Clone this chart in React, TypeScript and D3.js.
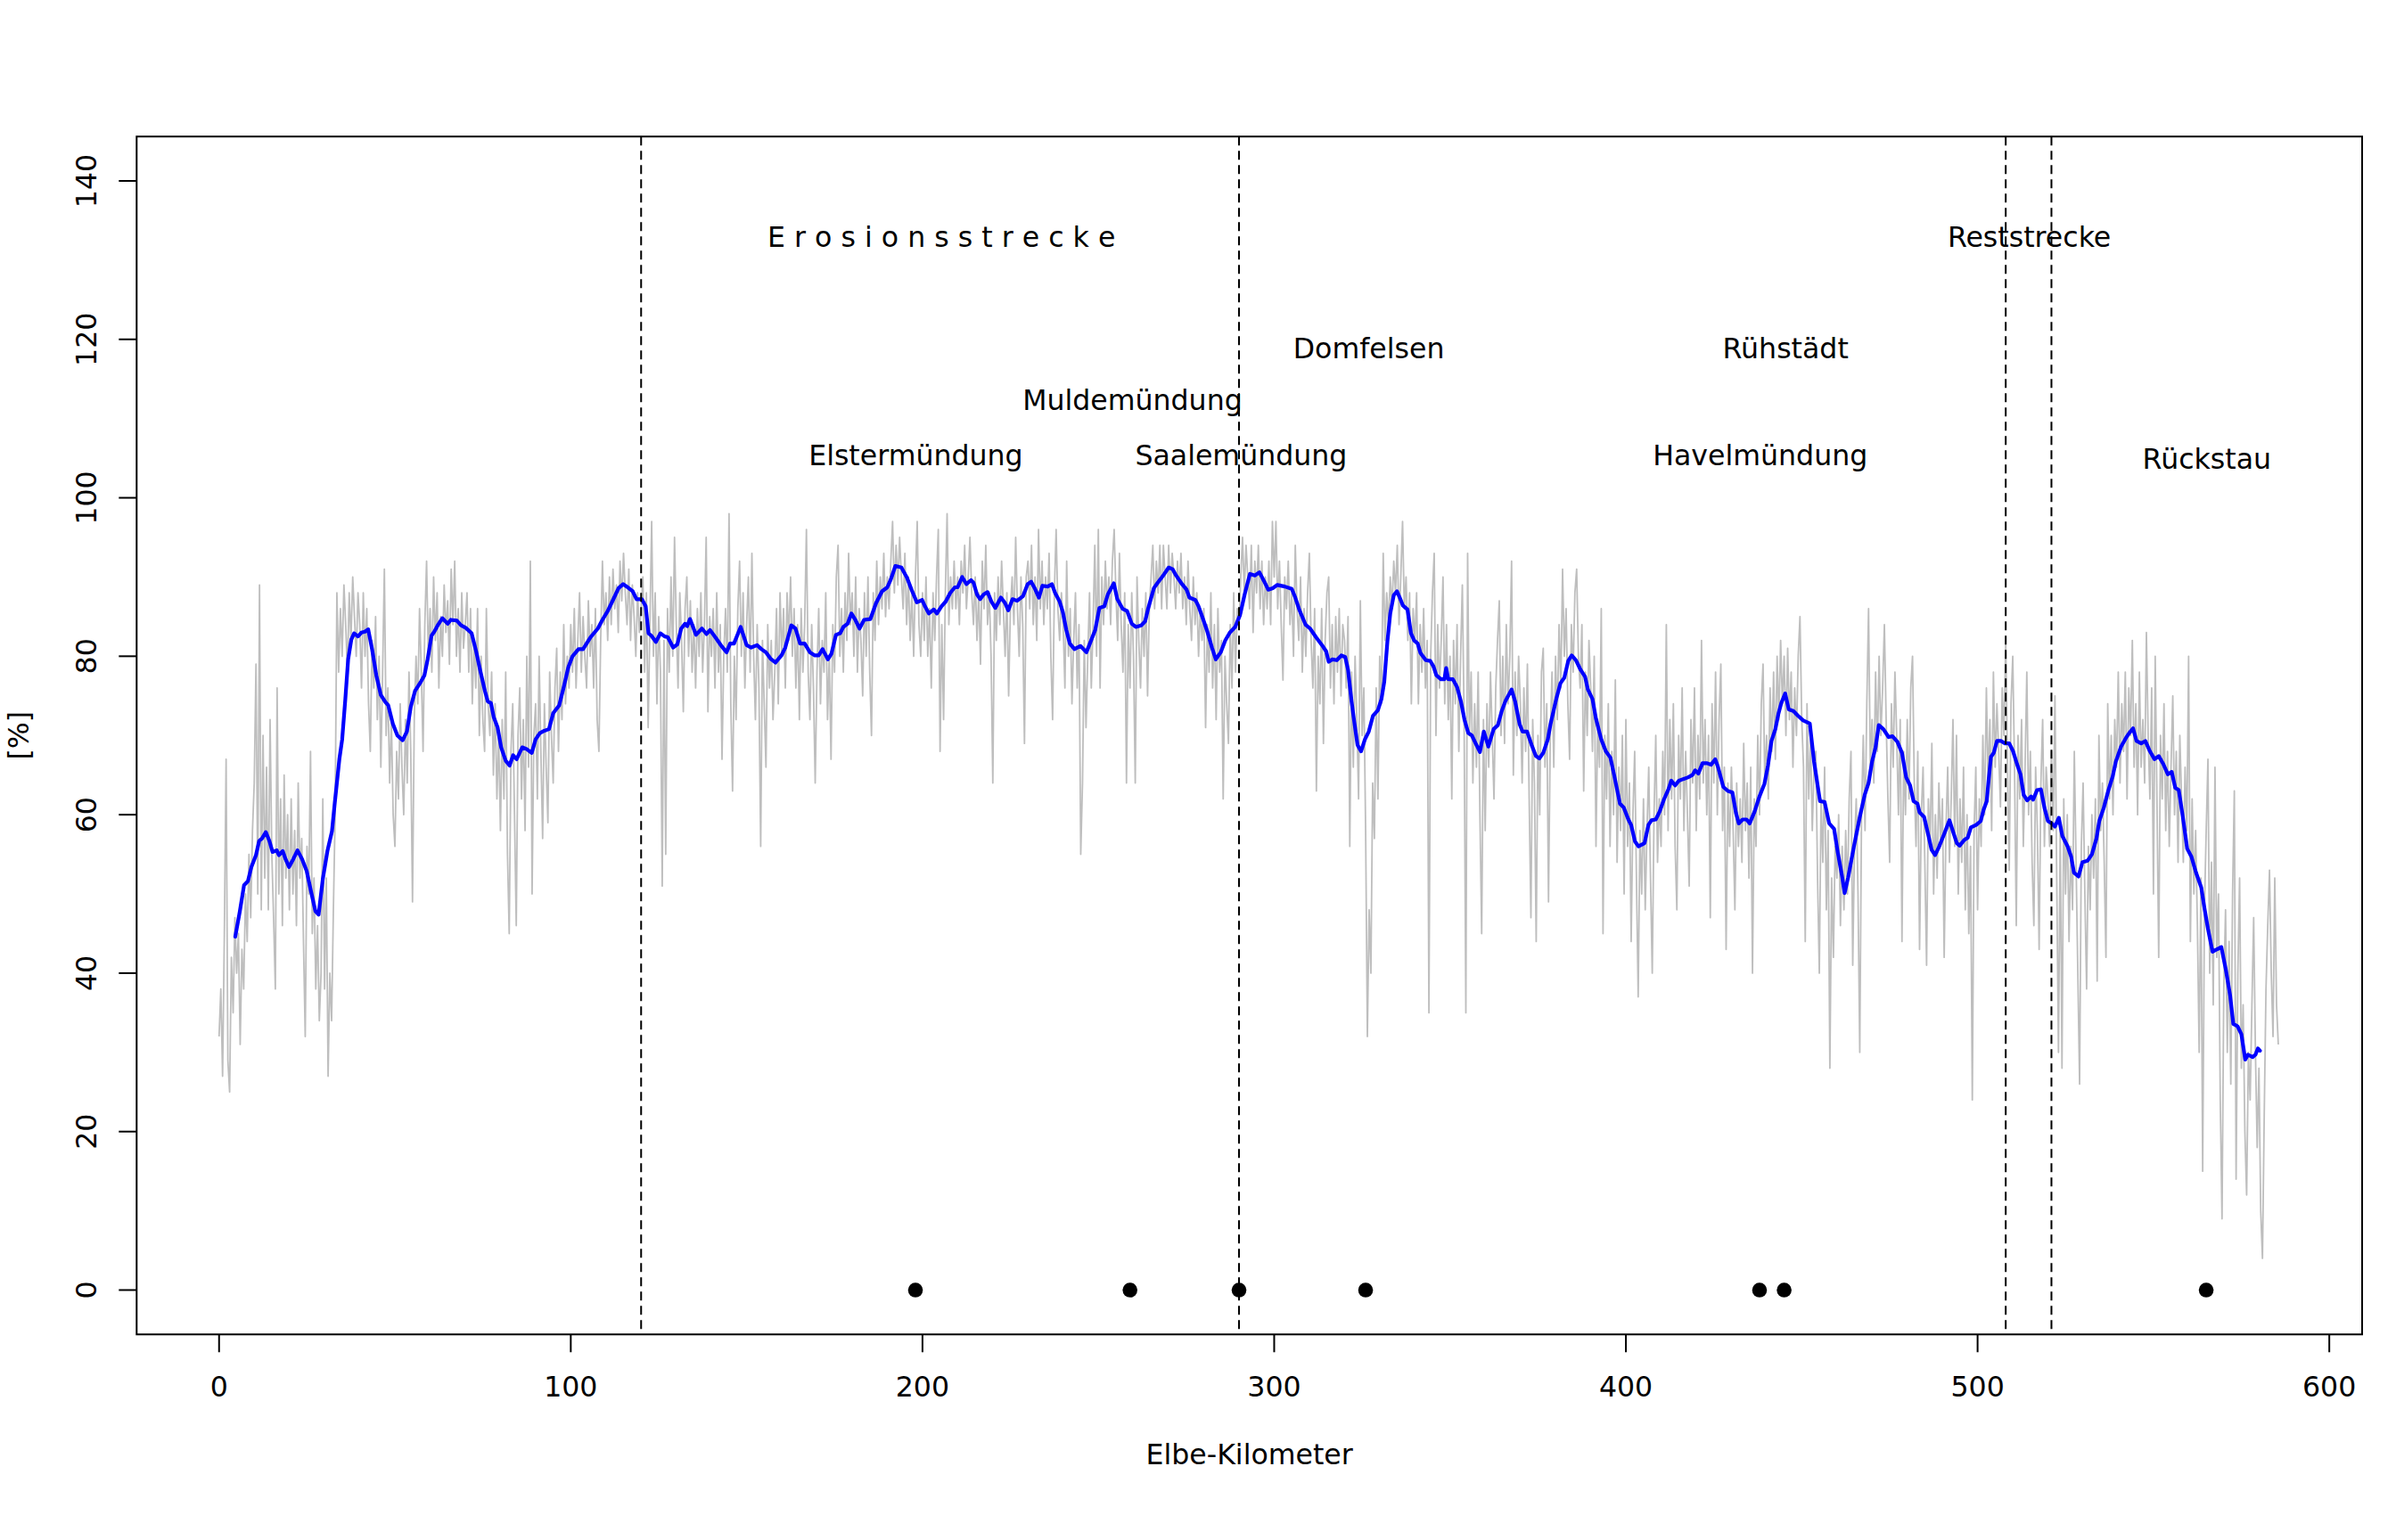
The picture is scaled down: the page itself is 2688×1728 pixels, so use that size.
import React from "react";
import * as d3 from "d3";

// ---------- data ----------
// raw series (grey), one value every 0.5 Elbe-km starting at km 0
const GRAY_STEP_KM = 0.5;
const gray000 = [32,38,27,45,67,29,25,42,35,47,40,45,31,43,38,50,44,55,47,58];
const gray010 = [64,79,50,89,48,70,52,66,48,72,55,47,38,76,50,62,46,65,52,60];
const gray020 = [48,62,50,58,46,64,52,57,44,32,56,50,68,45,52,38,46,34,40,62];
const gray030 = [38,52,27,40,34,48,60,88,78,86,80,89,84,78,88,82,90,85,80,88];
const gray040 = [84,76,88,80,86,74,68,82,76,85,72,80,66,78,91,70,76,64,72,60];
const gray050 = [56,68,62,74,66,60,72,64,78,68,49,72,80,74,86,78,68,84,92,80];
const gray060 = [86,78,90,82,88,76,85,80,89,83,87,79,91,84,92,80,86,78,88,81];
const gray070 = [84,88,78,86,74,82,76,86,70,80,72,68,86,74,70,78,65,74,62,70];
const gray080 = [58,72,62,78,55,45,68,74,60,46,70,76,62,72,58,80,66,92,50,70];
const gray090 = [74,62,80,68,57,74,66,59,78,70,64,76,81,68,78,72,84,74,80,76];
const gray100 = [84,78,86,76,82,88,78,85,80,76,87,80,84,76,86,72,68,82,92,84];
const gray110 = [88,82,90,84,91,86,89,83,92,87,93,88,84,91,82,89,85,80,88,83];
const gray120 = [86,90,78,88,71,84,97,80,88,74,85,78,51,82,55,86,78,90,80,95];
const gray130 = [84,76,88,82,73,86,90,80,87,78,84,76,86,80,88,78,84,95,73,85];
const gray140 = [80,86,76,88,78,84,67,80,86,78,98,74,63,80,72,86,92,80,88,76];
const gray150 = [84,90,78,93,80,72,84,76,56,82,74,66,84,76,82,72,78,86,74,88];
const gray160 = [80,86,76,88,82,90,80,86,76,84,72,86,78,84,96,78,72,84,76,64];
const gray170 = [78,86,74,82,78,88,72,80,67,84,78,90,94,80,86,78,88,82,93,84];
const gray180 = [88,80,90,78,86,82,75,88,80,90,78,70,88,82,92,84,90,86,93,85];
const gray190 = [90,86,92,97,88,94,89,95,90,86,93,84,90,82,88,80,90,97,84,80];
const gray200 = [88,82,90,80,86,76,88,82,90,96,68,84,72,88,98,84,90,86,92,86];
const gray210 = [90,84,92,88,94,86,90,95,88,84,90,82,88,79,92,86,94,84,88,80];
const gray220 = [64,88,82,90,84,92,86,80,88,75,86,90,84,95,86,80,90,84,69,90];
const gray230 = [92,86,94,84,90,82,96,86,92,84,90,86,93,80,72,88,96,86,82,88];
const gray240 = [84,76,92,80,86,74,82,88,76,84,55,64,82,71,80,88,76,84,94,80];
const gray250 = [96,76,90,84,92,86,90,84,92,96,88,82,93,84,78,88,64,84,76,88];
const gray260 = [80,64,90,82,76,86,80,88,75,86,90,94,86,92,88,94,86,94,90,86];
const gray270 = [94,88,93,90,86,92,88,93,86,90,84,92,86,82,90,84,88,80,86,82];
const gray280 = [86,71,84,78,88,76,84,72,86,78,82,62,80,74,69,84,76,88,78,86];
const gray290 = [84,90,95,88,94,90,86,94,83,92,88,94,86,92,84,90,86,92,84,97];
const gray300 = [90,97,86,92,84,77,90,86,92,84,88,80,94,86,82,90,78,86,80,88];
const gray310 = [93,82,76,86,63,80,74,86,69,82,88,90,76,84,74,85,78,86,75,84];
const gray320 = [82,76,85,56,78,66,80,72,62,87,70,76,58,32,48,40,64,57,76,62];
const gray330 = [80,74,93,82,88,84,90,86,92,88,94,84,90,97,86,90,82,88,74,86];
const gray340 = [82,88,74,84,78,86,76,82,35,80,88,93,70,84,76,82,90,74,84,72];
const gray350 = [80,62,82,74,84,68,80,89,72,35,93,70,78,64,74,66,78,60,45,72];
const gray360 = [58,74,66,78,70,62,76,82,87,70,80,69,84,74,80,92,65,78,70,80];
const gray370 = [74,64,76,68,79,62,47,72,64,44,70,60,78,81,66,74,49,70,78,66];
const gray380 = [80,72,84,76,91,80,86,74,67,84,78,88,91,80,76,84,63,78,70,82];
const gray390 = [76,68,80,56,72,66,86,45,70,62,74,56,68,60,77,54,66,58,70,50];
const gray400 = [72,56,64,44,60,68,52,37,58,50,62,48,58,66,52,40,60,70,54,62];
const gray410 = [56,68,60,84,58,72,62,74,56,48,70,62,76,58,68,60,51,72,64,76];
const gray420 = [58,70,62,82,64,72,60,70,47,74,64,78,60,72,79,58,66,43,64,56];
const gray430 = [66,58,48,64,56,62,54,69,58,64,52,66,40,62,56,70,60,74,79,64];
const gray440 = [70,62,76,68,78,67,80,72,82,74,80,70,81,72,78,66,76,70,80,85];
const gray450 = [72,66,44,74,62,70,58,66,68,52,40,62,54,66,48,58,28,52,42,56];
const gray460 = [52,60,46,56,48,58,50,62,68,41,56,62,50,30,60,70,58,74,86,66];
const gray470 = [72,64,78,68,80,70,76,84,72,62,54,74,66,78,70,60,72,44,68,60];
const gray480 = [72,62,76,80,64,56,68,43,60,66,54,41,62,56,69,50,60,52,64,56];
const gray490 = [62,42,58,66,54,62,72,56,70,50,62,54,66,48,60,45,56,24,58,66];
const gray500 = [48,62,56,70,60,76,64,72,58,78,66,74,68,61,76,70,82,66,53,74];
const gray510 = [80,66,46,70,62,72,56,66,78,60,68,54,46,66,58,43,64,72,56,66];
const gray520 = [62,56,68,58,75,52,30,58,28,62,50,60,44,56,48,68,54,40,26,56];
const gray530 = [64,50,38,56,48,60,52,62,39,70,58,64,54,42,74,62,70,60,72,66];
const gray540 = [78,64,74,68,78,62,76,70,82,66,74,60,78,66,72,64,83,70,62,76];
const gray550 = [50,80,62,42,70,62,74,58,68,56,66,75,60,68,54,70,62,54,66,58];
const gray560 = [80,44,62,50,58,46,30,52,15,48,58,67,40,54,36,66,42,50,24,9];
const gray570 = [38,48,30,44,26,50,63,14,40,52,28,36,20,12,30,24,36,47,30,18];
const gray580 = [28,10,4,22,38,46,53,40,32,52,36,31];

// smoothed series (blue)
const blueKm = [
  4.6,5.9,7.1,8.2,9.2,10.5,11.4,12.2,13.3,14.3,15.2,16.4,17.0,18.1,18.9,19.9,21.1,22.3,23.6,24.9,
  26.1,27.4,28.3,29.5,30.8,32.1,32.9,34.2,35.0,35.9,36.7,37.6,38.4,39.5,40.5,41.5,42.4,43.5,44.7,46.0,
  47.3,48.1,49.4,50.7,52.2,53.4,54.5,55.7,57.4,58.4,59.3,60.4,61.2,62.3,63.5,65.0,65.9,67.6,68.8,70.1,
  71.8,73.1,74.3,75.6,76.4,77.3,78.1,79.2,80.2,81.5,82.6,83.6,84.6,86.2,87.4,88.9,90.0,91.2,92.5,93.8,
  95.0,96.7,98.0,99.3,100.5,102.2,103.5,105.6,107.7,109.0,110.5,112.0,113.6,114.9,116.2,117.6,118.7,120.2,121.3,122.1,
  122.9,124.2,125.5,126.7,127.6,129.1,130.3,131.4,132.5,133.1,133.9,135.6,137.3,138.6,139.6,141.1,143.0,144.3,145.3,146.4,
  148.3,150.0,151.3,153.0,154.2,155.5,156.8,158.2,159.9,161.0,162.7,163.9,165.2,166.5,168.0,169.4,170.5,171.6,173.1,174.1,
  175.4,176.6,177.5,178.7,179.8,180.9,182.1,183.4,185.2,186.8,188.5,190.0,191.0,192.3,194.0,195.6,196.9,198.4,199.9,200.7,
  201.8,203.2,204.1,205.4,206.6,207.9,209.2,210.0,211.3,212.5,213.8,214.5,215.5,216.4,217.4,218.5,219.6,220.7,222.3,223.5,
  224.4,225.6,226.9,228.6,229.9,230.9,232.0,233.1,234.1,235.6,236.8,237.7,239.0,239.9,240.9,241.9,243.2,244.9,246.6,247.6,
  249.1,250.3,251.7,252.7,254.4,255.4,256.9,258.2,259.5,260.7,262.2,263.3,264.1,265.8,266.9,268.3,270.0,271.1,272.1,273.8,
  275.1,275.9,277.6,278.5,279.7,281.0,282.3,283.4,284.8,286.1,287.4,288.9,290.3,291.6,293.1,294.5,295.8,297.1,298.3,299.6,
  300.9,303.0,305.0,306.0,307.2,308.9,310.2,311.9,313.6,314.8,315.5,316.5,317.8,319.1,320.2,321.0,322.0,322.9,323.7,324.7,
  325.8,326.9,328.1,329.5,330.5,331.3,332.2,333.0,334.0,334.9,335.7,336.6,337.9,338.9,339.8,340.8,341.6,343.1,344.4,345.3,
  346.1,347.4,348.4,348.9,349.5,350.8,352.0,353.1,354.1,355.2,356.2,357.5,358.5,359.6,360.9,362.4,363.6,364.7,365.8,367.5,
  368.5,369.8,370.6,371.9,373.2,374.4,375.4,376.5,377.8,378.6,380.2,381.4,382.5,383.6,384.6,385.8,387.1,388.4,389.2,390.5,
  391.5,393.0,394.3,395.6,396.8,398.3,399.4,400.7,401.5,402.6,403.6,405.3,406.4,407.3,408.5,409.6,410.8,412.1,412.9,414.0,
  415.1,416.3,417.6,418.9,419.7,420.6,421.8,423.1,424.2,425.4,426.2,427.7,429.0,430.3,431.3,432.1,433.2,434.3,435.2,436.6,
  437.9,439.4,440.4,441.4,442.5,443.4,444.2,445.3,446.3,447.6,448.9,450.4,452.3,453.5,455.2,456.5,457.8,459.2,460.3,461.4,
  462.2,463.2,464.8,466.6,467.9,469.0,470.0,471.0,471.9,473.2,474.7,475.8,477.2,478.5,479.7,480.8,481.8,482.9,483.5,484.8,
  486.1,486.9,487.9,489.0,489.9,490.7,492.0,493.0,494.1,494.9,496.2,497.2,498.1,499.6,500.9,501.7,502.6,503.1,503.8,504.6,
  505.5,506.7,507.8,509.0,510.1,511.2,512.2,513.1,514.1,515.2,515.8,516.9,518.0,519.0,520.0,521.1,522.0,523.1,524.1,525.6,
  526.6,527.4,528.7,529.8,531.3,532.5,533.8,534.6,535.9,537.2,538.4,539.3,540.8,542.2,543.1,544.2,545.2,546.5,547.7,549.0,
  550.3,551.5,552.8,554.1,555.2,556.2,557.2,558.3,559.6,560.8,562.1,563.6,564.5,565.5,566.8,568.0,569.3,570.6,571.8,572.7,
  573.9,575.0,576.1,576.9,578.2,579.0,579.7,580.3
];
const bluePct = [
  44.6,47.8,51.1,51.6,53.4,54.9,56.7,57.0,57.8,56.7,55.3,55.5,54.9,55.4,54.4,53.4,54.4,55.5,54.4,52.9,
  50.4,47.8,47.4,51.9,55.4,57.9,61.5,67.0,69.5,74.6,79.6,82.1,82.9,82.5,83.0,83.1,83.4,80.9,77.6,75.1,
  74.2,73.8,71.5,70.0,69.4,70.5,73.6,75.6,76.8,77.6,79.6,82.6,83.1,84.0,84.8,84.1,84.6,84.5,83.9,83.6,
  82.9,80.6,78.1,75.6,74.3,74.1,72.3,71.0,68.5,66.8,66.2,67.5,67.0,68.5,68.3,67.8,69.5,70.3,70.6,70.8,
  72.8,73.8,76.1,78.6,80.0,80.9,80.9,82.4,83.5,84.6,85.7,87.1,88.6,89.1,88.7,88.2,87.2,87.2,86.3,82.9,
  82.6,81.8,82.9,82.5,82.4,81.1,81.5,83.5,84.1,83.8,84.7,82.7,83.5,82.8,83.3,82.4,81.2,80.5,81.6,81.6,
  83.7,81.4,81.1,81.4,80.9,80.5,79.7,79.2,80.1,81.1,83.9,83.5,81.6,81.6,80.5,80.1,80.1,80.9,79.6,80.3,
  82.7,82.9,83.7,84.1,85.4,84.6,83.5,84.6,84.7,86.7,88.2,88.7,89.7,91.4,91.2,89.9,88.4,86.8,87.1,86.3,
  85.4,85.9,85.4,86.3,86.9,88.0,88.7,88.7,90.0,89.1,89.6,89.3,87.8,87.2,87.8,88.1,86.9,86.1,87.4,86.7,
  85.8,87.2,87.0,87.6,89.1,89.4,88.5,87.4,88.9,88.8,89.1,88.0,86.9,85.6,83.3,81.6,80.9,81.3,80.5,81.6,
  83.3,86.1,86.3,87.8,89.2,87.2,86.0,85.7,84.1,83.7,83.9,84.4,85.9,88.6,89.3,90.1,91.2,91.0,90.2,89.1,
  88.4,87.4,87.1,86.3,84.8,83.1,81.1,79.6,80.5,82.0,83.0,83.7,85.2,87.8,90.4,90.2,90.6,89.5,88.4,88.6,
  89.0,88.8,88.5,87.4,85.8,84.0,83.5,82.4,81.4,80.6,79.3,79.6,79.5,80.1,79.9,78.3,74.3,71.3,68.8,68.0,
  69.5,70.5,72.5,73.2,74.6,76.8,81.9,85.4,87.7,88.2,87.4,86.4,85.9,82.9,82.0,81.6,80.4,79.5,79.4,78.7,
  77.6,77.1,77.1,78.5,77.1,77.1,76.1,74.3,72.0,70.3,70.0,68.8,67.9,70.5,68.6,70.8,71.3,73.1,74.4,75.8,
  74.3,71.4,70.5,70.5,68.8,67.4,67.1,67.8,69.5,71.5,74.6,76.6,77.3,79.4,80.1,79.5,78.3,77.4,75.8,74.6,
  72.1,69.5,68.0,67.2,64.7,61.4,60.9,59.4,58.7,56.6,56.0,56.4,58.7,59.3,59.4,60.4,61.9,63.2,64.3,63.7,
  64.3,64.5,64.7,65.0,65.6,65.2,66.5,66.5,66.3,67.0,66.0,63.5,63.0,62.8,60.2,58.9,59.4,59.4,58.9,60.4,
  62.2,63.9,66.2,69.3,70.8,72.8,74.1,75.3,73.3,73.1,72.5,71.9,71.5,66.7,61.7,61.6,58.9,58.2,55.1,52.4,
  50.1,52.1,55.9,59.9,62.5,64.0,66.7,68.5,71.3,70.8,69.8,69.9,69.2,67.8,64.7,63.7,61.7,61.4,60.3,59.7,
  57.2,55.6,54.9,55.9,56.9,57.8,59.3,57.9,56.4,56.1,56.8,57.1,58.4,58.7,59.2,60.6,61.7,64.2,67.3,67.8,
  69.3,69.3,69.0,69.0,68.0,66.4,65.1,62.5,61.8,62.3,61.9,63.1,63.2,60.9,59.2,58.9,58.5,59.6,57.3,56.0,
  54.7,52.7,52.2,54.0,54.2,55.0,57.0,59.2,60.9,63.1,64.8,66.7,68.6,69.7,70.3,70.9,69.3,69.0,69.3,68.0,
  67.0,67.4,66.4,65.1,65.4,63.4,63.1,59.9,55.7,54.7,52.7,50.8,48.2,45.6,42.7,43.0,43.3,40.4,37.2,33.6,
  33.3,32.3,29.1,29.7,29.4,29.7,30.5,30.2
];

// section boundaries (dashed) and marked places
const boundaryKm = [120, 290, 508, 521];
const placeKm = [198, 259, 290, 326, 438, 445, 565];
const placeLabels = [
  { text: "Elstermündung", km: 198.1, pct: 105.3 },
  { text: "Muldemündung", km: 259.7, pct: 112.3 },
  { text: "Saalemündung", km: 290.6, pct: 105.3 },
  { text: "Domfelsen", km: 326.9, pct: 118.9 },
  { text: "Havelmündung", km: 438.2, pct: 105.3 },
  { text: "Rühstädt", km: 445.4, pct: 118.9 },
  { text: "Rückstau", km: 565.2, pct: 104.9 },
];
const sectionLabels = [
  { text: "E r o s i o n s s t r e c k e", km: 205.4, pct: 132.9 },
  { text: "Reststrecke", km: 514.7, pct: 132.9 },
];
const xTicks = [0, 100, 200, 300, 400, 500, 600];
const yTicks = [0, 20, 40, 60, 80, 100, 120, 140];
const xDataRange = [0, 585.9];
const yLimits = [0, 140];
const xTitle = "Elbe-Kilometer";
const yTitle = "[%]";

// ---------- layout ----------
const W = 2688;
const H = 1728;
const box = { left: 153.3, right: 2650, top: 153.2, bottom: 1497.3 };
const FONT = "DejaVu Sans";
const FS = 31.6;

export default function App() {
  const grayPct = [
    ...gray000, ...gray010, ...gray020, ...gray030, ...gray040, ...gray050, ...gray060, ...gray070,
    ...gray080, ...gray090, ...gray100, ...gray110, ...gray120, ...gray130, ...gray140, ...gray150,
    ...gray160, ...gray170, ...gray180, ...gray190, ...gray200, ...gray210, ...gray220, ...gray230,
    ...gray240, ...gray250, ...gray260, ...gray270, ...gray280, ...gray290, ...gray300, ...gray310,
    ...gray320, ...gray330, ...gray340, ...gray350, ...gray360, ...gray370, ...gray380, ...gray390,
    ...gray400, ...gray410, ...gray420, ...gray430, ...gray440, ...gray450, ...gray460, ...gray470,
    ...gray480, ...gray490, ...gray500, ...gray510, ...gray520, ...gray530, ...gray540, ...gray550,
    ...gray560, ...gray570, ...gray580,
  ];
  const grayPts: [number, number][] = grayPct.map((v, i) => [i * GRAY_STEP_KM, v]);
  const bluePts: [number, number][] = blueKm.map((k, i) => [k, bluePct[i]]);

  const xr = xDataRange[1] - xDataRange[0];
  const yr = yLimits[1] - yLimits[0];
  const x = d3
    .scaleLinear()
    .domain([xDataRange[0] - 0.04 * xr, xDataRange[1] + 0.04 * xr])
    .range([box.left, box.right]);
  const y = d3
    .scaleLinear()
    .domain([yLimits[0] - 0.04 * yr, yLimits[1] + 0.04 * yr])
    .range([box.bottom, box.top]);

  const line = d3
    .line<[number, number]>()
    .x((d) => x(d[0]))
    .y((d) => y(d[1]));

  const textStyle = { fontFamily: FONT, fontSize: FS, fill: "#000" } as const;

  return (
    <svg
      width={W}
      height={H}
      viewBox={`0 0 ${W} ${H}`}
      style={{ position: "absolute", left: 0, top: 0, background: "#fff" }}
    >
      <rect x={0} y={0} width={W} height={H} fill="#fff" />
      {/* grey raw series */}
      <path d={line(grayPts) || ""} fill="none" stroke="#BEBEBE" strokeWidth={1.8} strokeLinejoin="round" />
      {/* blue smoothed series */}
      <path d={line(bluePts) || ""} fill="none" stroke="#0000FF" strokeWidth={4.2} strokeLinejoin="round" strokeLinecap="round" />
      {/* dashed section boundaries */}
      {boundaryKm.map((k) => (
        <line
          key={`b${k}`}
          x1={x(k)}
          x2={x(k)}
          y1={box.top}
          y2={box.bottom}
          stroke="#000"
          strokeWidth={2}
          strokeDasharray="10 6"
        />
      ))}
      {/* places */}
      {placeKm.map((k) => (
        <circle key={`p${k}`} cx={x(k)} cy={y(0)} r={8.3} fill="#000" />
      ))}
      {placeLabels.map((l) => (
        <text key={l.text} x={x(l.km)} y={y(l.pct)} textAnchor="middle" dominantBaseline="central" style={textStyle}>
          {l.text}
        </text>
      ))}
      {sectionLabels.map((l) => (
        <text key={l.text} x={x(l.km)} y={y(l.pct)} textAnchor="middle" dominantBaseline="central" style={textStyle}>
          {l.text}
        </text>
      ))}
      {/* box */}
      <rect
        x={box.left}
        y={box.top}
        width={box.right - box.left}
        height={box.bottom - box.top}
        fill="none"
        stroke="#000"
        strokeWidth={2}
      />
      {/* x axis */}
      {xTicks.map((t) => (
        <g key={`xt${t}`}>
          <line x1={x(t)} x2={x(t)} y1={box.bottom} y2={box.bottom + 20} stroke="#000" strokeWidth={2} />
          <text x={x(t)} y={1556} textAnchor="middle" dominantBaseline="central" style={textStyle}>
            {t}
          </text>
        </g>
      ))}
      <text x={(box.left + box.right) / 2} y={1632} textAnchor="middle" dominantBaseline="central" style={textStyle}>
        {xTitle}
      </text>
      {/* y axis */}
      {yTicks.map((t) => (
        <g key={`yt${t}`}>
          <line x1={box.left - 20} x2={box.left} y1={y(t)} y2={y(t)} stroke="#000" strokeWidth={2} />
          <text
            x={97}
            y={y(t)}
            transform={`rotate(-90 97 ${y(t)})`}
            textAnchor="middle"
            dominantBaseline="central"
            style={textStyle}
          >
            {t}
          </text>
        </g>
      ))}
      <text
        x={21}
        y={(box.top + box.bottom) / 2}
        transform={`rotate(-90 21 ${(box.top + box.bottom) / 2})`}
        textAnchor="middle"
        dominantBaseline="central"
        style={textStyle}
      >
        {yTitle}
      </text>
    </svg>
  );
}
